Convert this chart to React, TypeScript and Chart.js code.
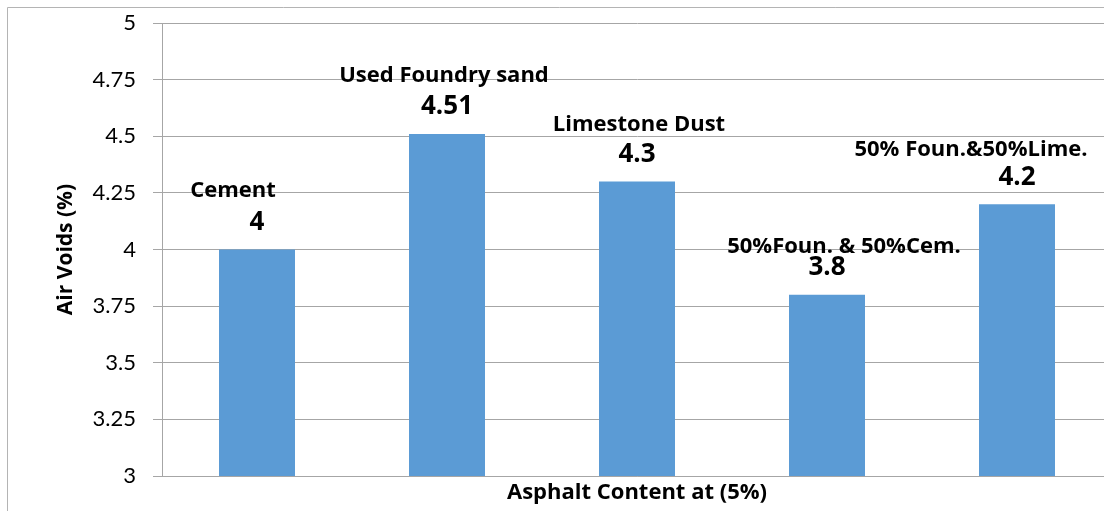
import React, { useEffect, useRef } from "react";
import { Chart, registerables } from "chart.js";

Chart.register(...registerables);

const categories = ["Cement", "Used Foundry sand", "Limestone Dust", "50%Foun. & 50%Cem.", "50% Foun.&50%Lime."];
const airVoids = [4, 4.51, 4.3, 3.8, 4.2];
const valueLabels = ["4", "4.51", "4.3", "3.8", "4.2"];
const yTitle = "Air Voids (%)";
const xTitle = "Asphalt Content at (5%)";

const FONT = "Lato, 'Open Sans', sans-serif";
const BOLDFONT = "'Open Sans', Lato, sans-serif";
const GRID = "#a6a6a6";

// label placement tweaks (dx, dy from bar top) mimicking the manually placed Excel labels
const nameNudge: [number, number][] = [[-24, -59], [-3, -58], [2, -57], [17, -48], [-46, -54]];

const framePlugin = {
  id: "frame",
  beforeDraw(chart: any) {
    const { ctx, width, height } = chart;
    ctx.save();
    ctx.fillStyle = "#ffffff";
    ctx.fillRect(0, 0, width, height);
    ctx.strokeStyle = "#b4b4b4";
    ctx.lineWidth = 1;
    ctx.beginPath();
    ctx.moveTo(7.5, height);
    ctx.lineTo(7.5, 7.5);
    ctx.lineTo(width, 7.5);
    ctx.stroke();
    ctx.restore();
  },
};

const labelPlugin = {
  id: "barLabels",
  afterDatasetsDraw(chart: any) {
    const { ctx } = chart;
    const meta = chart.getDatasetMeta(0);
    ctx.save();
    ctx.fillStyle = "#000000";
    ctx.textAlign = "center";
    ctx.textBaseline = "middle";
    meta.data.forEach((bar: any, i: number) => {
      const x = bar.x;
      const y = bar.y;
      ctx.font = `bold 26px ${BOLDFONT}`;
      ctx.fillText(valueLabels[i], x, y - 27);
      ctx.font = `bold 22px ${BOLDFONT}`;
      const [dx, dy] = nameNudge[i];
      ctx.fillText(categories[i], x + dx, y + dy);
    });
    ctx.restore();
  },
};

export default function App() {
  const ref = useRef<HTMLCanvasElement>(null);

  useEffect(() => {
    document.body.style.margin = "0";
    const canvas = ref.current!;
    const chart = new Chart(canvas, {
      type: "bar",
      data: {
        labels: categories,
        datasets: [
          {
            data: airVoids,
            backgroundColor: "#5B9BD5",
            borderWidth: 0,
            barPercentage: 0.4,
            categoryPercentage: 1,
          },
        ],
      },
      options: {
        animation: false,
        responsive: false,
        maintainAspectRatio: false,
        devicePixelRatio: 1,
        layout: { padding: { top: 23, left: 0, right: 0, bottom: 0 } },
        plugins: {
          legend: { display: false },
          tooltip: { enabled: false },
        },
        scales: {
          x: {
            grid: { display: false },
            border: { display: true, color: GRID, width: 1 },
            ticks: { display: false },
            title: {
              display: true,
              text: xTitle,
              color: "#000",
              font: { family: BOLDFONT, size: 22, weight: "bold" },
              padding: { top: 0, bottom: 5 },
            },
            afterFit(scale: any) {
              scale.height = 35;
              scale.paddingLeft = 0;
              scale.paddingRight = 0;
            },
          },
          y: {
            min: 3,
            max: 5,
            grid: { color: GRID, lineWidth: 1, tickLength: 9, drawTicks: true },
            border: { display: true, color: GRID, width: 1 },
            ticks: {
              stepSize: 0.25,
              color: "#000",
              padding: 17,
              font: { family: FONT, size: 22 },
              callback: (v: any) => String(Number(v)),
            },
            title: {
              display: true,
              text: yTitle,
              color: "#000",
              font: { family: BOLDFONT, size: 21, weight: "bold" },
              padding: { top: 53, bottom: 0 },
            },
            afterFit(scale: any) {
              scale.width = 162;
              scale.paddingTop = 0;
              scale.paddingBottom = 0;
            },
          },
        },
      },
      plugins: [framePlugin, labelPlugin],
    });
    return () => chart.destroy();
  }, []);

  return (
    <div style={{ position: "fixed", left: 0, top: 0, width: 1104, height: 511, overflow: "hidden", background: "#fff" }}>
      <canvas ref={ref} width={1112} height={511} style={{ display: "block", width: 1112, height: 511 }} />
    </div>
  );
}
